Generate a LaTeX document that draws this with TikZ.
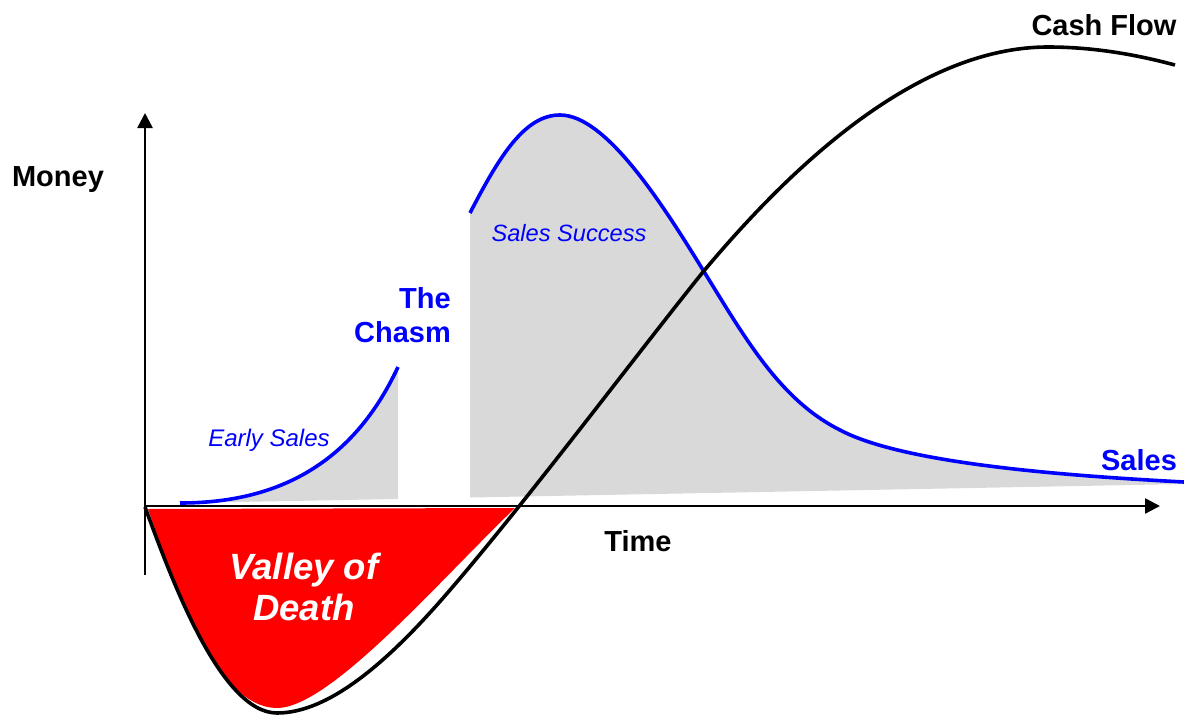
\documentclass[tikz,border=0pt]{standalone}
\usepackage{fontspec}
\setmainfont{Liberation Sans}
\usetikzlibrary{arrows.meta}

\definecolor{salesblue}{RGB}{0,0,255}
\definecolor{valleyred}{RGB}{255,0,0}
\definecolor{areagray}{RGB}{217,217,217}

\newcommand{\earlycurve}{(180,503) .. controls (270,503) and (350,470) .. (398,367)}
\newcommand{\successcurve}{(470,213) .. controls (500,155) and (525,115) .. (560,115)
        .. controls (605,115) and (660,200) .. (703,270)
        .. controls (745,338) and (780,400) .. (840,430)
        .. controls (900,462) and (1050,475) .. (1184,482)}
\newcommand{\cashcurve}{(145,507) .. controls (170,575) and (220,713) .. (277,713)
        .. controls (330,713) and (390,660) .. (450,590)
        .. controls (530,497) and (640,350) .. (703,272)
        .. controls (780,180) and (910,47) .. (1048,47)
        .. controls (1100,47) and (1145,57) .. (1175,65)}
\newcommand{\valleycurve}{(148,509) .. controls (172,580) and (215,708) .. (277,708)
        .. controls (330,708) and (440,580) .. (515,508)}

\begin{document}
\begin{tikzpicture}
        [x=1pt,y=-1pt,
         every node/.style={font=\bfseries\fontsize{29}{34}\selectfont,inner sep=0},
         axis/.style={line width=2.5pt,-{Triangle[length=15pt,width=15pt]}},
         curve/.style={line width=3.6pt}]
        \useasboundingbox (0,0) rectangle (1184,715);

        \coordinate (origin) at (145,506);
        \coordinate (ytop) at (145,113);
        \coordinate (ybottom) at (145,575);
        \coordinate (xend) at (1160,506);

        % shaded areas
        \fill[areagray] \earlycurve -- (398,499) -- (180,503) -- cycle;
        \fill[areagray] \successcurve -- (1184,484) -- (470,497.5) -- cycle;
        \fill[valleyred] \valleycurve -- cycle;

        % axes
        \draw[axis] (ybottom) -- (ytop);
        \draw[axis] (origin) -- (xend);

        % curves
        \draw[curve,salesblue] \earlycurve;
        \draw[curve,salesblue] \successcurve;
        \draw[curve,black] \cashcurve;

        % labels
        \node (money) at (58,179.5) {Money};
        \node (cashflow) at (1104,25) {Cash Flow};
        \node (time) at (638,541) {Time};
        \node[text=salesblue] (sales) at (1139,460) {Sales};
        \node[text=salesblue,align=right,anchor=east] (chasm) at (451,315) {The\\Chasm};
        \node[text=salesblue,font=\itshape\fontsize{24}{28}\selectfont] (early) at (269,440) {Early Sales};
        \node[text=salesblue,font=\itshape\fontsize{23.6}{28}\selectfont] (success) at (569,233) {Sales Success};
        \node[text=white,font=\bfseries\itshape\fontsize{36.5}{41}\selectfont,align=center] (valley) at (304,587) {Valley of\\Death};
      \end{tikzpicture}
\end{document}
